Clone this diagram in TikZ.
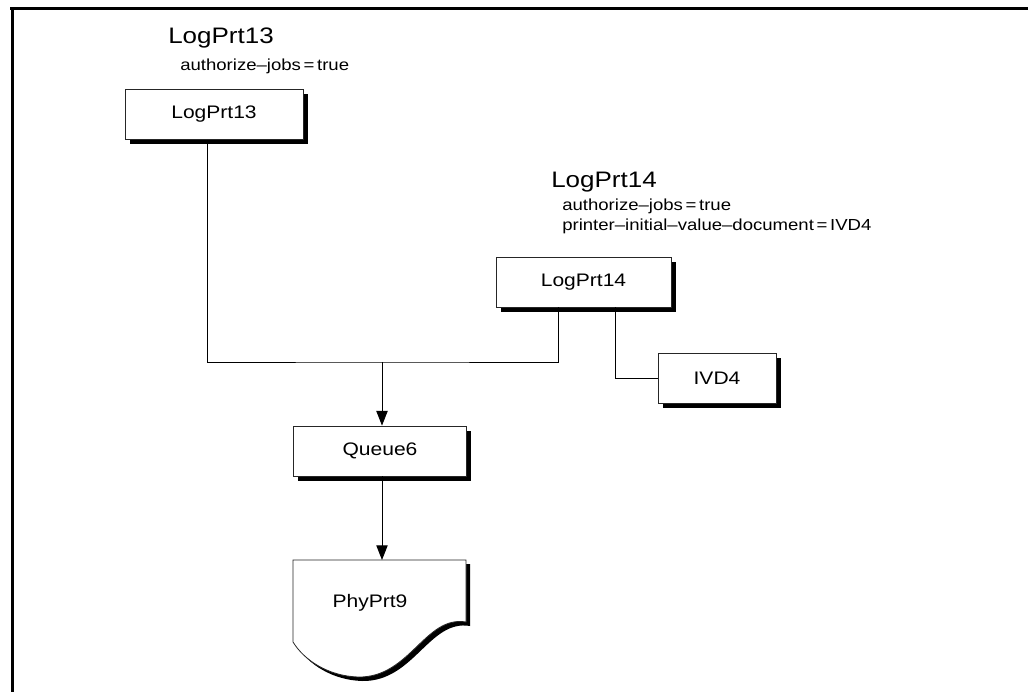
\documentclass[tikz,border=0pt]{standalone}
\usepackage{fontspec}
\setmainfont[FakeStretch=1.16]{Liberation Sans}
\usetikzlibrary{arrows.meta,shadows}

\tikzset{
	box/.style={draw=black!85, line width=0.6pt, fill=white, minimum height=37.5pt,
		font=\fontsize{13.6}{16}\selectfont,
		drop shadow={shadow xshift=3.5pt, shadow yshift=-3.5pt, opacity=1, fill=black}},
	title/.style={anchor=base west, inner sep=0pt, font=\fontsize{16.8}{20}\selectfont},
	attr/.style={anchor=base west, inner sep=0pt, font=\fontsize{12}{15}\selectfont},
	link/.style={line width=0.7pt},
	arrow/.style={link, -{Triangle[length=11pt,width=8.5pt]}}
}

\begin{document}
\begin{tikzpicture}[x=0.75pt, y=-0.75pt]
	\useasboundingbox (0,0) rectangle (1028,692);
	%\draw (0,0) grid[step=100] (1028,692);
	\draw[line width=2.4pt] (10,8.5) -- (1028,8.5);
	\draw[line width=2.4pt] (12.5,8.5) -- (12.5,692);

	\node[title] (t13) at (168,44) {LogPrt13};
	\node[attr] (a13) at (180,70) {authorize--jobs\,=\,true};
	\node[box, minimum width=133.5pt] (l13) at (214,114.5) {LogPrt13};

	\node[title] (t14) at (551,187) {LogPrt14};
	\node[attr] (a14) at (562,210) {authorize--jobs\,=\,true};
	\node[attr] (b14) at (562,230) {printer--initial--value--document\,=\,IVD4};
	\node[box, minimum width=131.25pt] (l14) at (583.5,282) {LogPrt14};

	\node[box, minimum width=88.5pt] (ivd) at (717,378.5) {IVD4};
	\node[box, minimum width=129.75pt] (q) at (380,451) {Queue6};

	\coordinate (bus) at (382,362);
	\coordinate (phytop) at (382,560);

	% PhyPrt9
	\fill[black, shift={(4,4)}] (293,560) -- (466,560) -- (466,622)
		.. controls (425,615) and (410,678) .. (358,677)
		.. controls (328,676) and (304,660) .. (293,642) -- cycle;
	\draw[draw=black!85, line width=0.6pt, fill=white] (293,560) -- (466,560) -- (466,622)
		.. controls (425,615) and (410,678) .. (358,677)
		.. controls (328,676) and (304,660) .. (293,642) -- cycle;
	\node[font=\fontsize{13.6}{16}\selectfont] (phy) at (370,603) {PhyPrt9};

	\draw[link] ([xshift=-5.25pt]l13.south) |- (bus) -| ([xshift=-19pt]l14.south);
	\draw[link] ([xshift=23.6pt]l14.south) |- (ivd.west);
	\draw[arrow] (bus) -- (bus |- q.north);
	\draw[arrow] (q.south -| bus) -- (phytop);
\end{tikzpicture}
\end{document}
